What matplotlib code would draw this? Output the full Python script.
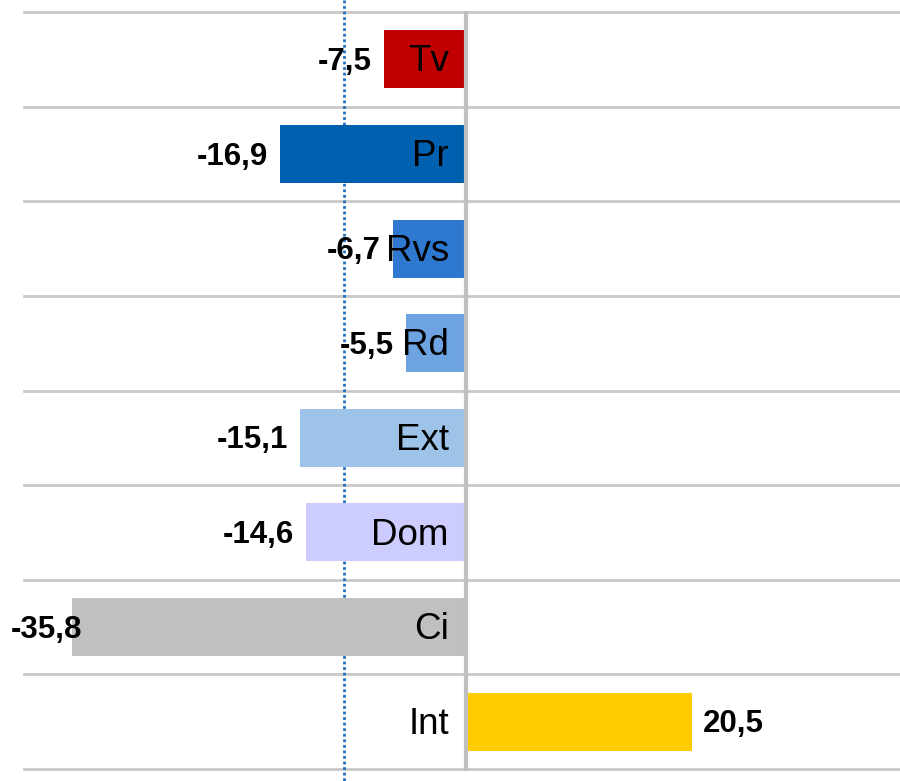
import matplotlib.pyplot as plt
from matplotlib.transforms import blended_transform_factory

plt.rcParams['font.family'] = ['Liberation Sans', 'DejaVu Sans']

categories = ["Tv", "Pr", "Rvs", "Rd", "Ext", "Dom", "Ci", "Int"]
values = [-7.5, -16.9, -6.7, -5.5, -15.1, -14.6, -35.8, 20.5]
colors = ["#C00000", "#0060B0", "#2E78D0", "#6CA3E0", "#9DC3E9", "#CCCCFF", "#C0C0C0", "#FFCC00"]
ref_line = -11.1


def fmt(v):
    return f"{v:.1f}".replace(".", ",")


def main() -> None:
    fig = plt.figure(figsize=(9.0, 7.81), dpi=100)
    ax = fig.add_axes([24 / 900, 12 / 781, 876 / 900, 757 / 781])

    n = len(categories)
    ypos = list(range(n))
    ax.barh(ypos, values, height=0.614, color=colors, zorder=3)

    ax.set_xlim(-40.2, 39.4)
    ax.set_ylim(n - 0.5, -0.5)

    # horizontal grid at category boundaries
    for b in range(n + 1):
        ax.axhline(b - 0.5, color="#C8C8C8", lw=2.0, zorder=1, clip_on=False)
    # zero axis
    ax.plot([0, 0], [-0.49, n - 0.5], color="#BFBFBF", lw=3.0, zorder=4, clip_on=False)
    # dotted reference line spanning the full height
    ax.plot([ref_line, ref_line], [-0.63, n - 0.37], color="#1F6FC0", lw=2.0,
            linestyle=(0, (1.0, 1.0)), zorder=2, clip_on=False)

    px = (ax.get_xlim()[1] - ax.get_xlim()[0]) / 876.0
    dy = 0.028
    trans_fig = blended_transform_factory(fig.transFigure, ax.transData)
    for y, v, name in zip(ypos, values, categories):
        ax.text(-1.6, y + dy, name, ha="right", va="center", fontsize=26.5, color="black", zorder=5)
        if v >= 0:
            ax.text(v + 11 * px, y + dy, fmt(v), ha="left", va="center", fontsize=22.5,
                    fontweight="bold", zorder=5)
        elif v - 82 * px < ax.get_xlim()[0]:
            ax.text(11 / 900, y + dy, fmt(v), ha="left", va="center", fontsize=22.5,
                    fontweight="bold", transform=trans_fig, zorder=5)
        else:
            ax.text(v - 12 * px, y + dy, fmt(v), ha="right", va="center", fontsize=22.5,
                    fontweight="bold", zorder=5)

    ax.axis("off")
    fig.savefig("out.png", dpi=100)


if __name__ == "__main__":
    main()
